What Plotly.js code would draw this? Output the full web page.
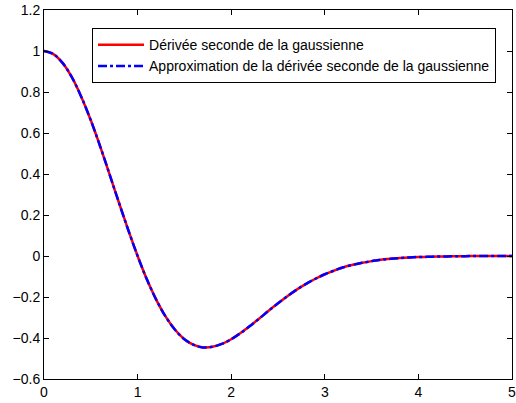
<!DOCTYPE html>
<html>
<head>
<meta charset="utf-8">
<script src="https://cdn.plot.ly/plotly-3.0.1.min.js"></script>
<style>html,body{margin:0;padding:0;background:#fff;}#chart{width:516px;height:403px;}</style>
</head>
<body>
<div id="chart"></div>
<script>
const xValues = [0,0.1,0.2,0.3,0.4,0.5,0.6,0.7,0.8,0.9,1.0,1.1,1.2,1.3,1.4,1.5,1.6,1.7,1.8,1.9,2.0,2.1,2.2,2.3,2.4,2.5,2.6,2.7,2.8,2.9,3.0,3.1,3.2,3.3,3.4,3.5,3.6,3.7,3.8,3.9,4.0,4.1,4.2,4.3,4.4,4.5,4.6,4.7,4.8,4.9,5.0];
const exactValues = [1.000,0.985,0.941,0.870,0.775,0.662,0.535,0.399,0.261,0.127,0.000,-0.115,-0.214,-0.296,-0.360,-0.406,-0.434,-0.446,-0.443,-0.429,-0.406,-0.376,-0.342,-0.305,-0.267,-0.231,-0.196,-0.164,-0.136,-0.111,-0.089,-0.071,-0.055,-0.043,-0.033,-0.025,-0.018,-0.014,-0.010,-0.007,-0.005,-0.004,-0.002,-0.002,-0.001,-0.001,0.000,0.000,0.000,0.000,0.000];
const approxValues = [1.000,0.985,0.941,0.870,0.775,0.662,0.535,0.399,0.261,0.127,0.000,-0.115,-0.214,-0.296,-0.360,-0.406,-0.434,-0.446,-0.443,-0.429,-0.406,-0.376,-0.342,-0.305,-0.267,-0.231,-0.196,-0.164,-0.136,-0.111,-0.089,-0.071,-0.055,-0.043,-0.033,-0.025,-0.018,-0.014,-0.010,-0.007,-0.005,-0.004,-0.002,-0.002,-0.001,-0.001,0.000,0.000,0.000,0.000,0.000];
const seriesNames = ["Dérivée seconde de la gaussienne","Approximation de la dérivée seconde de la gaussienne"];
const xTicks = [0,1,2,3,4,5];
const yTicks = [-0.6,-0.4,-0.2,0,0.2,0.4,0.6,0.8,1,1.2];
const yTickText = ["\u22120.6","\u22120.4","\u22120.2","0","0.2","0.4","0.6","0.8","1","1.2"];

const traces = [
  {x: xValues, y: exactValues, name: seriesNames[0], mode: 'lines', line: {color: '#ff0000', width: 2.5, shape: 'spline'}},
  {x: xValues, y: approxValues, name: seriesNames[1], mode: 'lines', line: {color: '#0000ff', width: 2.5, dash: 'dashdot', shape: 'spline'}}
];
const fontFam = 'Liberation Sans, Arial, Helvetica, sans-serif';
const axisCommon = {showline: true, linecolor: '#000', linewidth: 1, mirror: 'ticks', ticks: 'inside', ticklen: 5, tickcolor: '#000', showgrid: false, zeroline: false, ticklabeloverflow: 'allow', tickfont: {family: fontFam, size: 14, color: '#000'}};
const layout = {
  width: 516, height: 403,
  margin: {l: 44, r: 4, t: 10, b: 24},
  paper_bgcolor: '#fff', plot_bgcolor: '#fff',
  showlegend: true,
  xaxis: Object.assign({}, axisCommon, {range: [0, 5], tickvals: xTicks, ticktext: xTicks.map(String)}),
  yaxis: Object.assign({}, axisCommon, {range: [-0.6, 1.2], tickvals: yTicks, ticktext: yTickText}),
  legend: {x: 0.1026, y: 0.951, xanchor: 'left', yanchor: 'top', bgcolor: '#fff', bordercolor: '#000', borderwidth: 1,
           font: {family: fontFam, size: 14, color: '#000'}, itemwidth: 46, tracegroupgap: 0}
};
Plotly.newPlot('chart', traces, layout, {staticPlot: true, displayModeBar: false});
</script>
</body>
</html>
